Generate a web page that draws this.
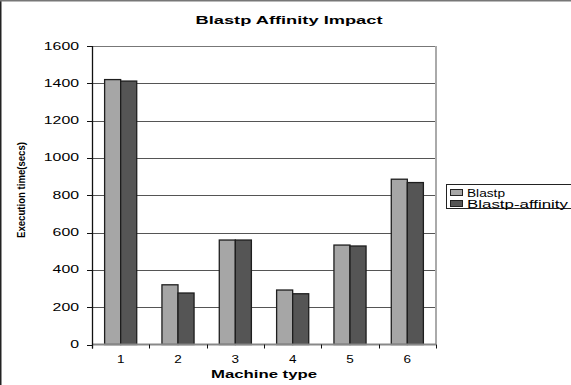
<!DOCTYPE html>
<html>
<head>
<meta charset="utf-8">
<script src="https://cdn.jsdelivr.net/npm/d3@7"></script>
<style>
  body { margin: 0; background: #fff; }
  svg text { font-family: "Liberation Sans", Arial, sans-serif; fill: #000; }
</style>
</head>
<body>
<div id="chart"></div>
<script>
const machines = ["1", "2", "3", "4", "5", "6"];
const blastp = [1420, 320, 560, 292, 533, 886];
const blastpAffinity = [1412, 276, 560, 272, 528, 868];
const seriesNames = ["Blastp", "Blastp-affinity"];
const yTicks = [0, 200, 400, 600, 800, 1000, 1200, 1400, 1600];

const lightFill = "#a6a6a6";
const darkFill = "#555555";
const barStroke = "#1e1e1e";

let dimensions = {
  width: 571,
  height: 385,
  margin: { top: 46, right: 135, bottom: 40, left: 92 },
};
dimensions.boundedWidth =
  dimensions.width - dimensions.margin.left - dimensions.margin.right;
dimensions.boundedHeight =
  dimensions.height - dimensions.margin.top - dimensions.margin.bottom - 0.5;

const wrapper = d3
  .select("#chart")
  .append("svg")
  .attr("width", dimensions.width)
  .attr("height", dimensions.height);

// outer frame (left and top visible)
wrapper.append("line").attr("x1", 0.75).attr("x2", 0.75).attr("y1", 0).attr("y2", dimensions.height)
  .attr("stroke", "#222").attr("stroke-width", 1.5);
wrapper.append("line").attr("x1", 0).attr("x2", dimensions.width).attr("y1", 0.75).attr("y2", 0.75)
  .attr("stroke", "#777").attr("stroke-width", 1.5);

const bounds = wrapper
  .append("g")
  .attr("transform", `translate(${dimensions.margin.left}, ${dimensions.margin.top})`);

// scales
const xScale = d3
  .scaleBand()
  .domain(machines)
  .range([0, dimensions.boundedWidth])
  .paddingInner(0.44)
  .paddingOuter(0.22);

const xSub = d3
  .scaleBand()
  .domain(seriesNames)
  .range([0, xScale.bandwidth()]);

const yScale = d3
  .scaleLinear()
  .domain([0, 1600])
  .range([dimensions.boundedHeight, 0]);

// gridlines
bounds
  .append("g")
  .selectAll("line")
  .data(yTicks.filter((t) => t > 0 && t < 1600))
  .enter()
  .append("line")
  .attr("x1", 0)
  .attr("x2", dimensions.boundedWidth)
  .attr("y1", (d) => Math.round(yScale(d)) + 0.5)
  .attr("y2", (d) => Math.round(yScale(d)) + 0.5)
  .attr("stroke", "#555")
  .attr("stroke-width", 1);

// plot frame top/right
bounds.append("line").attr("x1", 0).attr("x2", dimensions.boundedWidth).attr("y1", 0.5).attr("y2", 0.5)
  .attr("stroke", "#777");
bounds.append("line").attr("x1", dimensions.boundedWidth).attr("x2", dimensions.boundedWidth)
  .attr("y1", 0).attr("y2", dimensions.boundedHeight)
  .attr("stroke", "#aaa").attr("stroke-width", 2);

// bars
const groups = bounds
  .selectAll(".machine")
  .data(machines)
  .enter()
  .append("g")
  .attr("transform", (d) => `translate(${xScale(d)}, 0)`);

groups
  .selectAll("rect")
  .data((d, i) => [
    { name: seriesNames[0], value: blastp[i], fill: lightFill },
    { name: seriesNames[1], value: blastpAffinity[i], fill: darkFill },
  ])
  .enter()
  .append("rect")
  .attr("x", (d) => xSub(d.name))
  .attr("y", (d) => yScale(d.value))
  .attr("width", xSub.bandwidth())
  .attr("height", (d) => dimensions.boundedHeight - yScale(d.value))
  .attr("fill", (d) => d.fill)
  .attr("stroke", barStroke)
  .attr("stroke-width", 1.3);

// x axis
const xAxis = bounds
  .append("g")
  .attr("transform", `translate(0, ${dimensions.boundedHeight})`);
xAxis.append("line").attr("x1", 0).attr("x2", dimensions.boundedWidth)
  .attr("stroke", "#888").attr("stroke-width", 2);
const step = xScale.step();
xAxis
  .selectAll(".xtick")
  .data(d3.range(machines.length + 1))
  .enter()
  .append("line")
  .attr("x1", (i) => Math.round(i * step) + 0.5)
  .attr("x2", (i) => Math.round(i * step) + 0.5)
  .attr("y1", 0)
  .attr("y2", 4)
  .attr("stroke", "#111");
xAxis
  .selectAll(".xlabel")
  .data(machines)
  .enter()
  .append("text")
  .attr("x", (d) => xScale(d) + xScale.bandwidth() / 2)
  .attr("y", 18)
  .attr("text-anchor", "middle")
  .style("font-size", "10px")
  .attr("textLength", (d) => 7.5 * d.length)
  .attr("lengthAdjust", "spacingAndGlyphs")
  .text((d) => d);

xAxis
  .append("text")
  .attr("x", 172)
  .attr("y", 33)
  .attr("text-anchor", "middle")
  .style("font-size", "11px")
  .style("font-weight", "bold")
  .attr("textLength", 106)
  .attr("lengthAdjust", "spacingAndGlyphs")
  .text("Machine type");

// y axis
const yAxis = bounds.append("g");
yAxis.append("line").attr("x1", 0.5).attr("x2", 0.5).attr("y1", 0).attr("y2", dimensions.boundedHeight + 4)
  .attr("stroke", "#111").attr("stroke-width", 1.3);
yAxis
  .selectAll(".ytick")
  .data(yTicks)
  .enter()
  .append("line")
  .attr("x1", -5)
  .attr("x2", 0)
  .attr("y1", (d) => Math.round(yScale(d)) + 0.5)
  .attr("y2", (d) => Math.round(yScale(d)) + 0.5)
  .attr("stroke", "#111");
yAxis
  .selectAll(".ylabel")
  .data(yTicks)
  .enter()
  .append("text")
  .attr("x", -13)
  .attr("y", (d) => yScale(d) + 3.5)
  .attr("text-anchor", "end")
  .style("font-size", "10px")
  .attr("textLength", (d) => 8.8 * String(d).length)
  .attr("lengthAdjust", "spacingAndGlyphs")
  .text((d) => d);

wrapper
  .append("text")
  .attr("transform", "translate(25, 190) rotate(-90)")
  .attr("text-anchor", "middle")
  .style("font-size", "11px")
  .style("font-weight", "bold")
  .attr("textLength", 96)
  .attr("lengthAdjust", "spacingAndGlyphs")
  .text("Execution time(secs)");

// title
wrapper
  .append("text")
  .attr("x", 289)
  .attr("y", 24)
  .attr("text-anchor", "middle")
  .style("font-size", "11.5px")
  .style("font-weight", "bold")
  .attr("textLength", 187)
  .attr("lengthAdjust", "spacingAndGlyphs")
  .text("Blastp Affinity Impact");

// legend
const legend = wrapper.append("g").attr("transform", "translate(446, 184)");
legend.append("rect").attr("x", 0.5).attr("y", 0.5).attr("width", 130).attr("height", 24)
  .attr("fill", "#fff").attr("stroke", "#222");
const legendItems = legend
  .selectAll(".item")
  .data([
    { name: seriesNames[0], fill: lightFill, w: 38 },
    { name: seriesNames[1], fill: darkFill, w: 101 },
  ])
  .enter()
  .append("g")
  .attr("transform", (d, i) => `translate(4, ${4 + i * 11})`);
legendItems.append("rect").attr("x", 0.5).attr("y", 1.5).attr("width", 12).attr("height", 6)
  .attr("fill", (d) => d.fill).attr("stroke", "#222");
legendItems
  .append("text")
  .attr("x", 17)
  .attr("y", 8.5)
  .style("font-size", "10px")
  .attr("textLength", (d) => d.w)
  .attr("lengthAdjust", "spacingAndGlyphs")
  .text((d) => d.name);
</script>
</body>
</html>
